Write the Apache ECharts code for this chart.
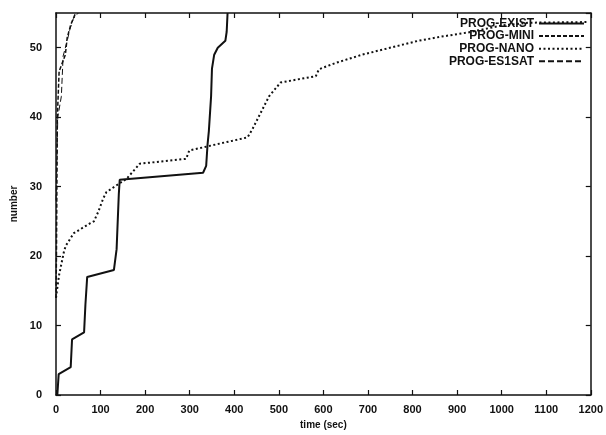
<!DOCTYPE html>
<html><head><meta charset="utf-8">
<script src="https://cdn.jsdelivr.net/npm/echarts@6/dist/echarts.min.js"></script>
<style>html,body{margin:0;padding:0;background:#fff}#c{width:606px;height:435px}</style>
</head><body><div id="c"></div>
<script>
const seriesNames = ['PROG-EXIST', 'PROG-MINI', 'PROG-NANO', 'PROG-ES1SAT'];
const xTicks = [0, 1200, 100];
const yTicks = [0, 55, 10];
const progExist = [[3,0],[6,3],[33,4],[36,8],[63,9],[66,13],[70,17],[130,18],[136,21],[141,29],[143,31],[330,32],[337,33],[340,36],[343,38],[348,43],[350,47],[355,49],[363,50],[380,51],[383,52.3],[385,55]];
const progMini = [[0,14],[1,20],[2,30],[3,40],[7,46.6],[21,49],[25,51.4],[33,53.3],[44,55]];
const progNano = [[0,14],[2,15],[7,17.3],[18,20.7],[22,21.5],[40,23.3],[76,24.7],[85,25],[95,26.4],[106,28.3],[113,29.2],[136,30.2],[158,31.1],[188,33.3],[232,33.6],[292,34],[299,35.2],[430,37.1],[441,38.3],[463,41.1],[478,43],[504,45],[583,45.9],[590,46.9],[627,47.8],[687,49],[769,50.3],[813,51],[865,51.6],[925,52.2],[1000,53.2],[1060,53.6],[1195,53.7]];
const progEs1sat = [[0,28],[2,34],[4,40],[12,43],[16,48.8],[24,50.7],[31,52.6],[39,54.2],[50,55]];

const ink = '#111';
const font = 'Liberation Sans';
const chart = echarts.init(document.getElementById('c'), null, {renderer: 'canvas'});
const axX = (pos, show) => ({
  type: 'value', position: pos, min: xTicks[0], max: xTicks[1], interval: xTicks[2],
  axisLine: {show: true, onZero: false, lineStyle: {color: ink, width: 1.5}},
  axisTick: {show: true, inside: true, length: 5, lineStyle: {color: ink, width: 1.2}},
  axisLabel: {show: show, color: ink, fontFamily: font, fontWeight: 'bold', fontSize: 11, margin: 9,
    formatter: v => String(v)},
  splitLine: {show: false}
});
const axY = (pos, show) => ({
  type: 'value', position: pos, min: yTicks[0], max: yTicks[1], interval: yTicks[2],
  axisLine: {show: true, onZero: false, lineStyle: {color: ink, width: 1.5}},
  axisTick: {show: true, inside: true, length: 5, lineStyle: {color: ink, width: 1.2}},
  axisLabel: {show: show, color: ink, fontFamily: font, fontWeight: 'bold', fontSize: 11, margin: 14, showMaxLabel: false},
  splitLine: {show: false}
});
const xMain = axX('bottom', true);
xMain.name = 'time (sec)'; xMain.nameLocation = 'middle'; xMain.nameGap = 25;
xMain.nameTextStyle = {color: ink, fontFamily: font, fontWeight: 'bold', fontSize: 10};
const yMain = axY('left', true);
yMain.name = 'number'; yMain.nameLocation = 'middle'; yMain.nameGap = 36;
yMain.nameTextStyle = {color: ink, fontFamily: font, fontWeight: 'bold', fontSize: 10};
const ser = (name, data, type, width) => ({
  name, type: 'line', data, xAxisIndex: 0, yAxisIndex: 0, symbol: 'none', showSymbol: false,
  animation: false, lineStyle: {color: ink, width, type}, itemStyle: {color: ink}
});
chart.setOption({
  animation: false,
  backgroundColor: '#fff',
  grid: {left: 56, right: 13, top: 13, bottom: 37, containLabel: false},
  legend: {
    orient: 'vertical', right: 21, top: 17.5, align: 'right', itemWidth: 45, itemHeight: 12, itemGap: 0.6,
    padding: 0,
    itemStyle: {opacity: 0},
    textStyle: {color: ink, fontFamily: font, fontWeight: 'bold', fontSize: 12},
    data: seriesNames
  },
  xAxis: [xMain, axX('top', false)],
  yAxis: [yMain, axY('right', false)],
  series: [
    ser(seriesNames[0], progExist, 'solid', 2),
    ser(seriesNames[1], progMini, [4, 2], 1.5),
    ser(seriesNames[2], progNano, [2, 2.5], 2),
    ser(seriesNames[3], progEs1sat, [6, 3], 1)
  ]
});
</script></body></html>
